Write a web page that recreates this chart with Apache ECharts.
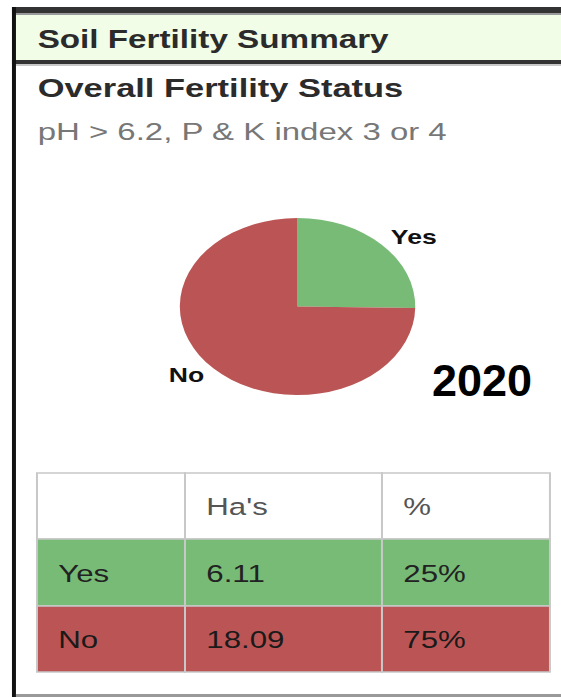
<!DOCTYPE html>
<html>
<head>
<meta charset="utf-8">
<script src="https://cdn.jsdelivr.net/npm/echarts@6/dist/echarts.min.js"></script>
<style>
html,body{margin:0;padding:0;background:#fff;overflow:hidden;}
#c{position:absolute;left:0;top:0;width:422px;height:698px;transform:scaleX(1.33);transform-origin:0 0;}
</style>
</head>
<body>
<div id="c"></div>
<script>
// ---- data ----
const headerTitle = 'Soil Fertility Summary';
const chartTitle = 'Overall Fertility Status';
const subTitle = 'pH > 6.2, P & K index 3 or 4';
const categories = ['Yes', 'No'];
const hectares = [6.11, 18.09];
const percents = ['25%', '75%'];
const columnHeaders = ['', "Ha's", '%'];
const yearLabel = '2020';
const sliceColors = ['#77bb77', '#bb5555'];

// ---- layout (unstretched units; the whole page is stretched horizontally by K) ----
const K = 1.33;
const FONT = '"Liberation Sans", Arial, sans-serif';

const g = [];
// frame
g.push({type:'rect', shape:{x:9, y:7, width:430, height:6}, style:{fill:'#333'}});
g.push({type:'rect', shape:{x:9, y:13, width:430, height:2}, style:{fill:'#999'}});
g.push({type:'rect', shape:{x:12, y:15, width:430, height:45}, style:{fill:'#f1fde6'}});
g.push({type:'rect', shape:{x:9, y:60, width:430, height:4}, style:{fill:'#333'}});
g.push({type:'rect', shape:{x:12, y:64, width:430, height:2}, style:{fill:'#c8c8c8'}});
g.push({type:'rect', shape:{x:9, y:7, width:3, height:690}, style:{fill:'#111'}});
g.push({type:'rect', shape:{x:12, y:694, width:430, height:3}, style:{fill:'#999'}});

// titles
g.push({type:'text', x:28.3, y:39, style:{text:headerTitle, fontSize:25, fontWeight:'bold', fontFamily:FONT, fill:'#2b2b2b', textVerticalAlign:'middle'}});
g.push({type:'text', x:28.3, y:88, style:{text:chartTitle, fontSize:25.9, fontWeight:'bold', fontFamily:FONT, fill:'#2b2b2b', textVerticalAlign:'middle'}});
g.push({type:'text', x:28.3, y:132, style:{text:subTitle, fontSize:24.8, fontFamily:FONT, fill:'#777', textVerticalAlign:'middle'}});

// year annotation (not stretched)
g.push({type:'text', x:432 / K, y:381, scaleX:1 / K, style:{text:yearLabel, fontSize:45, fontWeight:'bold', fontFamily:FONT, fill:'#000', textVerticalAlign:'middle'}});

// table
const colX = [27.8, 139.1, 287.2, 413.5];
const rowY = [473, 539, 606, 672];
const rows = [columnHeaders].concat(categories.map((c, i) => [c, hectares[i].toFixed(2), percents[i]]));
const rowFill = ['#ffffff'].concat(sliceColors);
const rowText = ['#555', '#222', '#1a1a1a'];
rows.forEach((r, ri) => {
  for (let ci = 0; ci < 3; ci++) {
    g.push({type:'rect', shape:{x:colX[ci], y:rowY[ri], width:colX[ci + 1] - colX[ci], height:rowY[ri + 1] - rowY[ri]},
      style:{fill:rowFill[ri], stroke:'#c8c8c8', lineWidth:1.5}});
    if (r[ci]) {
      g.push({type:'text', x:colX[ci] + 16, y:(rowY[ri] + rowY[ri + 1]) / 2 + 1,
        style:{text:r[ci], fontSize:23.5, fontFamily:FONT, fill:rowText[ri], textVerticalAlign:'middle'}});
    }
  }
});

const chart = echarts.init(document.getElementById('c'), null, {renderer:'svg', width:422, height:698});
chart.setOption({
  animation:false,
  backgroundColor:'#fff',
  graphic:{elements:g},
  series:[{
    type:'pie',
    center:[223.7, 306.5],
    radius:88.5,
    startAngle:90,
    clockwise:true,
    silent:true,
    data:categories.map((c, i) => ({name:c, value:hectares[i], itemStyle:{color:sliceColors[i]}})),
    label:{show:true, position:'outside', formatter:'{b}', fontSize:20, fontWeight:'bold', fontFamily:FONT, color:'#111', distanceToLabelLine:0},
    labelLine:{show:false, length:10, length2:0},
    emphasis:{disabled:true}
  }]
});
</script>
</body>
</html>
